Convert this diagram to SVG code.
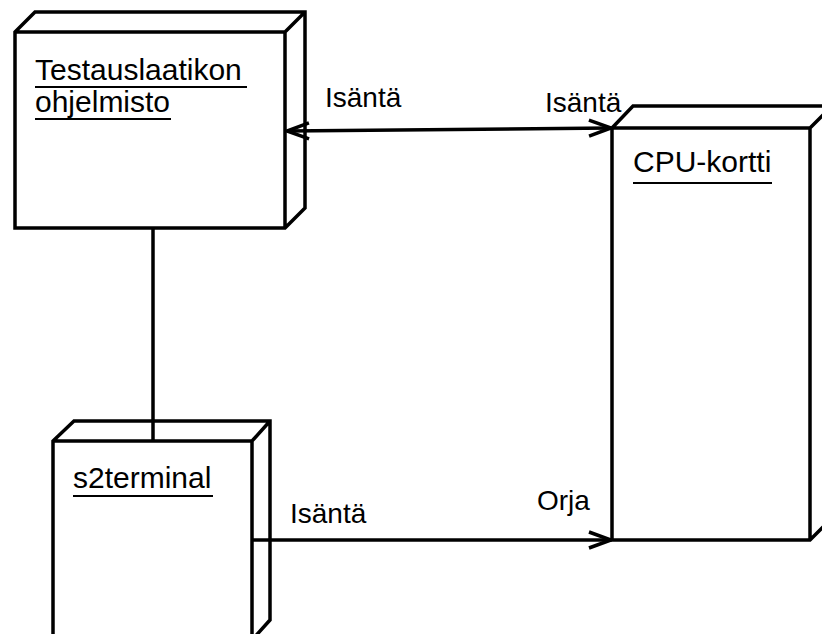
<svg xmlns="http://www.w3.org/2000/svg" width="822" height="634" viewBox="0 0 822 634">
<style>
.node{fill:#fff;stroke:#000;stroke-width:3.5;stroke-linejoin:miter}
.t{font-family:"Liberation Sans",Arial,sans-serif;font-size:30px;fill:#000}
.l{font-family:"Liberation Sans",Arial,sans-serif;font-size:28px;fill:#000}
.u{stroke:#000;stroke-width:2}
.c{stroke:#000;stroke-width:3.5;fill:none}
</style>
<defs>
<marker id="open" viewBox="0 0 24 20" refX="23" refY="10" markerWidth="24" markerHeight="20" markerUnits="userSpaceOnUse" orient="auto-start-reverse">
<path d="M1 2 L23 10 L1 18" fill="none" stroke="#000" stroke-width="3.5"/>
</marker>
</defs>
<rect width="822" height="634" fill="#fff"/>
<g id="node-testauslaatikon">
<path class="node" d="M15 32 L35 12 L305 12 L305 208 L285 228 L15 228 Z M15 32 L285 32 L305 12 M285 32 L285 228"/>
<text class="t" x="35" y="80">Testauslaatikon</text>
<line class="u" x1="35" y1="87" x2="247" y2="87"/>
<text class="t" x="35" y="112">ohjelmisto</text>
<line class="u" x1="35" y1="119" x2="171" y2="119"/>
</g>
<g id="node-cpu">
<path class="node" d="M612 128 L633 106 L832 106 L832 518 L810 540 L612 540 Z M612 128 L810 128 L832 106 M810 128 L810 540"/>
<text class="t" x="633" y="172">CPU-kortti</text>
<line class="u" x1="633" y1="183" x2="772" y2="183"/>
</g>
<g id="node-s2terminal">
<path class="node" d="M53 441 L74 421 L270 421 L270 620 L252 640 L53 640 Z M53 441 L252 441 L270 421 M252 441 L252 640"/>
<text class="t" x="73" y="488">s2terminal</text>
<line class="u" x1="73" y1="496" x2="213" y2="496"/>
</g>
<g id="connectors">
<line class="c" x1="153" y1="228" x2="153" y2="441"/>
<line class="c" x1="287" y1="131" x2="611" y2="128" marker-start="url(#open)" marker-end="url(#open)"/>
<line class="c" x1="252" y1="540" x2="611" y2="540" marker-end="url(#open)"/>
</g>
<g id="labels">
<text class="l" x="325" y="107">Isäntä</text>
<text class="l" x="545" y="112">Isäntä</text>
<text class="l" x="290" y="523">Isäntä</text>
<text class="l" x="537" y="510">Orja</text>
</g>
</svg>
